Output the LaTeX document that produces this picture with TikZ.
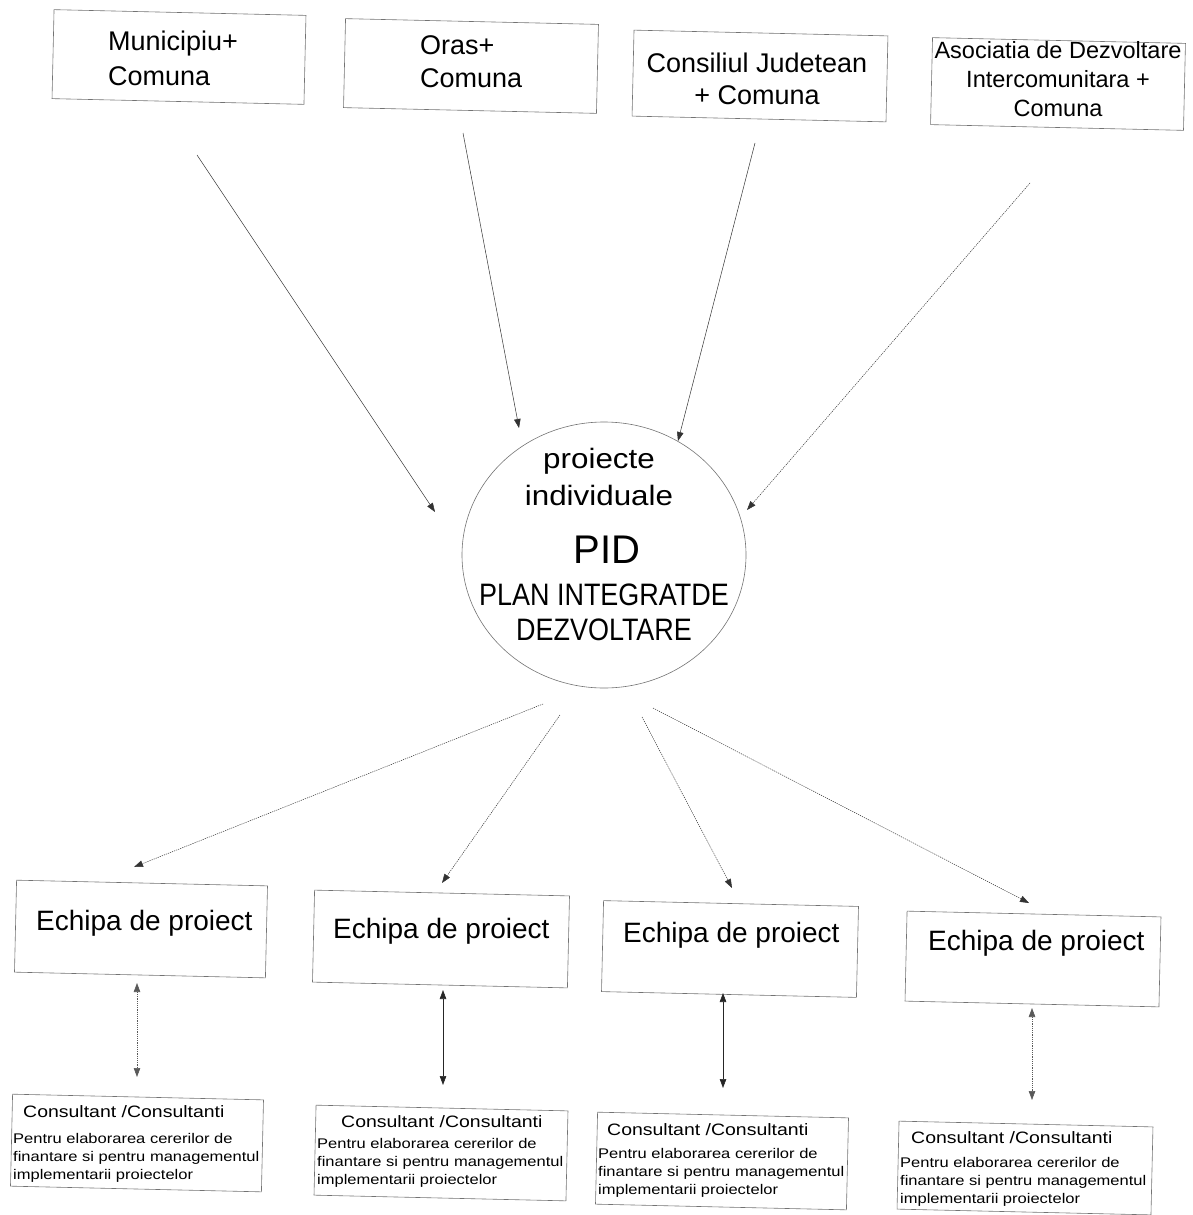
\documentclass[tikz,border=0pt]{standalone}
\usepackage{fontspec}
\setmainfont{Liberation Sans}
\newfontfamily\widefont[FakeStretch=1.18]{Liberation Sans}
\newfontfamily\midfont[FakeStretch=1.12]{Liberation Sans}
\newfontfamily\narrowfont[FakeStretch=0.87]{Liberation Sans}
\usetikzlibrary{arrows.meta,shapes.geometric}
\begin{document}
\begin{tikzpicture}[x=1pt,y=-1pt,
  frame/.style={draw=black!55, line width=0.6pt, inner sep=0pt, rotate=-1.3},
  txt/.style={inner sep=0pt, text=black},
  echtxt/.style={txt, anchor=base west, font=\fontsize{28}{32}\selectfont},
  headtxt/.style={txt, anchor=base west, font=\widefont\fontsize{16.5}{20}\selectfont},
  bodytxt/.style={txt, anchor=base west, align=left, font=\widefont\fontsize{14}{18}\selectfont},
  tipA/.tip={Triangle[length=9pt,width=6.5pt]},
  link/.style={draw=black!80, line width=0.5pt, -tipA},
  dlink/.style={link, dash pattern=on 1.2pt off 1pt},
  both/.style={draw=black!85, line width=0.6pt, tipA-tipA},
  dboth/.style={both, dash pattern=on 1.2pt off 1pt, draw=black!65}
]
\useasboundingbox (0,0) rectangle (1193,1215);

% top boxes
\node[frame, minimum width=252pt, minimum height=89pt] (m1) at (179,57) {};
\node[frame, minimum width=253pt, minimum height=89pt] (m2) at (471,66) {};
\node[frame, minimum width=254pt, minimum height=86pt] (m3) at (760,76) {};
\node[frame, minimum width=253pt, minimum height=87pt] (m4) at (1058,84) {};

% multi-line nodes: base anchor = baseline of the last line
\node[txt, anchor=base west, align=left, font=\fontsize{27}{35}\selectfont] (m1t) at (108,85) {Municipiu+\\Comuna};
\node[txt, anchor=base west, align=left, font=\fontsize{27}{33}\selectfont] (m2t) at (420,88) {Oras+\\Comuna};
\node[txt, anchor=base, align=center, font=\fontsize{27}{32}\selectfont] (m3t) at (757,104) {Consiliul Judetean\\+ Comuna};
\node[txt, anchor=base, align=center, font=\fontsize{23.5}{29}\selectfont] (m4t) at (1058,116) {Asociatia de Dezvoltare\\Intercomunitara +\\Comuna};

% central ellipse
\node[draw=black!55, line width=0.6pt, ellipse, minimum width=284pt, minimum height=266pt, inner sep=0pt] (pid) at (604,555) {};
\node[txt, anchor=base, align=center, font=\midfont\fontsize{28}{37}\selectfont] (pidtop) at (599,505) {proiecte\\individuale};
\node[txt, anchor=base, font=\fontsize{40}{44}\selectfont] (pidmain) at (607,563) {PID};
\node[txt, anchor=base, align=center, font=\narrowfont\fontsize{31}{35}\selectfont] (pidsub) at (604,640) {PLAN INTEGRATDE\\DEZVOLTARE};

% team boxes
\node[frame, minimum width=251pt, minimum height=92pt] (e1) at (141,929) {};
\node[frame, minimum width=255pt, minimum height=92pt] (e2) at (441,939) {};
\node[frame, minimum width=255pt, minimum height=91pt] (e3) at (730,949) {};
\node[frame, minimum width=254pt, minimum height=90pt] (e4) at (1033,959) {};
\node[echtxt] (e1t) at (36,930) {Echipa de proiect};
\node[echtxt] (e2t) at (333,938) {Echipa de proiect};
\node[echtxt] (e3t) at (623,942) {Echipa de proiect};
\node[echtxt] (e4t) at (928,950) {Echipa de proiect};

% consultant boxes
\node[frame, minimum width=251pt, minimum height=92pt] (c1) at (137,1143) {};
\node[frame, minimum width=252pt, minimum height=90pt] (c2) at (441,1153) {};
\node[frame, minimum width=251pt, minimum height=92pt] (c3) at (722,1161) {};
\node[frame, minimum width=254pt, minimum height=88pt] (c4) at (1025,1168) {};
\node[headtxt] (c1h) at (23,1117) {Consultant /Consultanti};
\node[headtxt] (c2h) at (341,1127) {Consultant /Consultanti};
\node[headtxt] (c3h) at (607,1135) {Consultant /Consultanti};
\node[headtxt] (c4h) at (911,1143) {Consultant /Consultanti};
\node[bodytxt] (c1b) at (13,1179) {Pentru elaborarea cererilor de\\finantare si pentru managementul\\implementarii proiectelor};
\node[bodytxt] (c2b) at (317,1184) {Pentru elaborarea cererilor de\\finantare si pentru managementul\\implementarii proiectelor};
\node[bodytxt] (c3b) at (598,1194) {Pentru elaborarea cererilor de\\finantare si pentru managementul\\implementarii proiectelor};
\node[bodytxt] (c4b) at (900,1203) {Pentru elaborarea cererilor de\\finantare si pentru managementul\\implementarii proiectelor};

% connector end points
\coordinate (a1s) at (197,155);  \coordinate (a1e) at (435,512);
\coordinate (a2s) at (463,133);  \coordinate (a2e) at (519,428);
\coordinate (a3s) at (755,143);  \coordinate (a3e) at (678,441);
\coordinate (a4s) at (1030,183); \coordinate (a4e) at (747,510);
\coordinate (b1s) at (543,704);  \coordinate (b1e) at (134,867);
\coordinate (b2s) at (560,715);  \coordinate (b2e) at (442,883);
\coordinate (b3s) at (642,717);  \coordinate (b3e) at (732,888);
\coordinate (b4s) at (653,708);  \coordinate (b4e) at (1029,903);
\coordinate (d1s) at (137,983);  \coordinate (d1e) at (137,1077);
\coordinate (d2s) at (443,990);  \coordinate (d2e) at (443,1085);
\coordinate (d3s) at (723,993);  \coordinate (d3e) at (723,1088);
\coordinate (d4s) at (1032,1008); \coordinate (d4e) at (1032,1100);

\draw[link] (a1s) -- (a1e);
\draw[link] (a2s) -- (a2e);
\draw[link] (a3s) -- (a3e);
\draw[dlink] (a4s) -- (a4e);
\draw[dlink] (b1s) -- (b1e);
\draw[dlink] (b2s) -- (b2e);
\draw[dlink] (b3s) -- (b3e);
\draw[dlink] (b4s) -- (b4e);
\draw[dboth] (d1s) -- (d1e);
\draw[both] (d2s) -- (d2e);
\draw[both] (d3s) -- (d3e);
\draw[dboth] (d4s) -- (d4e);
\end{tikzpicture}
\end{document}
